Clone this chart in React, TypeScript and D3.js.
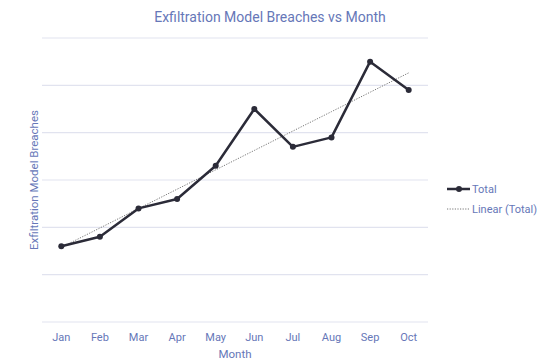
import React, { useEffect, useRef } from "react";
import * as d3 from "d3";

const months = ["Jan", "Feb", "Mar", "Apr", "May", "Jun", "Jul", "Aug", "Sep", "Oct"];
const totals = [16, 18, 24, 26, 33, 45, 37, 39, 55, 49];
const yTicks = [0, 10, 20, 30, 40, 50, 60];

const W = 552;
const H = 364;
const margin = { top: 38, right: 124, bottom: 42, left: 42 };
const textColor = "#6677b8";
const font = "Roboto, 'Noto Sans', sans-serif";

const App = () => {
  const ref = useRef<SVGSVGElement | null>(null);

  useEffect(() => {
    const svg = d3.select(ref.current);
    svg.selectAll("*").remove();

    const x = d3
      .scalePoint<string>()
      .domain(months)
      .range([margin.left, W - margin.right])
      .padding(0.5);
    const y = d3
      .scaleLinear()
      .domain([0, 60])
      .range([H - margin.bottom, margin.top]);

    // grid lines
    svg
      .append("g")
      .selectAll("line")
      .data(yTicks)
      .enter()
      .append("line")
      .attr("x1", margin.left)
      .attr("x2", W - margin.right)
      .attr("y1", d => y(d))
      .attr("y2", d => y(d))
      .attr("stroke", "#e1e3ef")
      .attr("stroke-width", 1.2);

    // x labels
    svg
      .append("g")
      .selectAll("text")
      .data(months)
      .enter()
      .append("text")
      .attr("x", d => x(d)!)
      .attr("y", H - margin.bottom + 19)
      .attr("text-anchor", "middle")
      .attr("fill", textColor)
      .style("font", `11px ${font}`)
      .text(d => d);

    // trend line (least squares)
    const xs = totals.map((_, i) => i);
    const mx = d3.mean(xs)!;
    const my = d3.mean(totals)!;
    const slope =
      d3.sum(xs, (xi, i) => (xi - mx) * (totals[i] - my)) /
      d3.sum(xs, xi => (xi - mx) * (xi - mx));
    const icpt = my - slope * mx;
    const trend = months.map((m, i) => ({ m, v: icpt + slope * i }));

    svg
      .append("path")
      .datum(trend)
      .attr("fill", "none")
      .attr("stroke", "#777")
      .attr("stroke-width", 1)
      .attr("stroke-dasharray", "1.2,1.4")
      .attr("d", d3.line<{ m: string; v: number }>().x(d => x(d.m)!).y(d => y(d.v)));

    const pts = months.map((m, i) => ({ m, v: totals[i] }));
    svg
      .append("path")
      .datum(pts)
      .attr("fill", "none")
      .attr("stroke", "#2b2b38")
      .attr("stroke-width", 2.5)
      .attr("stroke-linejoin", "round")
      .attr("d", d3.line<{ m: string; v: number }>().x(d => x(d.m)!).y(d => y(d.v)));

    svg
      .append("g")
      .selectAll("circle")
      .data(pts)
      .enter()
      .append("circle")
      .attr("cx", d => x(d.m)!)
      .attr("cy", d => y(d.v))
      .attr("r", 3)
      .attr("fill", "#2b2b38");

    // titles
    svg
      .append("text")
      .attr("x", 270)
      .attr("y", 22)
      .attr("text-anchor", "middle")
      .attr("fill", textColor)
      .style("font", `14px ${font}`)
      .text("Exfiltration Model Breaches vs Month");

    svg
      .append("text")
      .attr("x", (margin.left + W - margin.right) / 2)
      .attr("y", H - 6)
      .attr("text-anchor", "middle")
      .attr("fill", textColor)
      .style("font", `11.5px ${font}`)
      .text("Month");

    svg
      .append("text")
      .attr("transform", `translate(38,180) rotate(-90)`)
      .attr("text-anchor", "middle")
      .attr("fill", textColor)
      .style("font", `11.5px ${font}`)
      .text("Exfiltration Model Breaches");

    // legend
    const lg = svg.append("g").attr("transform", "translate(447,189)");
    lg.append("line")
      .attr("x1", 0)
      .attr("x2", 23)
      .attr("stroke", "#2b2b38")
      .attr("stroke-width", 2.5);
    lg.append("circle").attr("cx", 12).attr("r", 3).attr("fill", "#2b2b38");
    lg.append("text")
      .attr("x", 25)
      .attr("y", 4)
      .attr("fill", textColor)
      .style("font", `11px ${font}`)
      .text("Total");
    lg.append("line")
      .attr("x1", 0)
      .attr("x2", 23)
      .attr("y1", 20)
      .attr("y2", 20)
      .attr("stroke", "#777")
      .attr("stroke-width", 1)
      .attr("stroke-dasharray", "1.2,1.4");
    lg.append("text")
      .attr("x", 25)
      .attr("y", 24)
      .attr("fill", textColor)
      .style("font", `11px ${font}`)
      .text("Linear (Total)");
  }, []);

  return (
    <svg
      ref={ref}
      width={W}
      height={H}
      style={{ position: "absolute", left: 0, top: 0, background: "#fff" }}
    />
  );
};

export default App;
